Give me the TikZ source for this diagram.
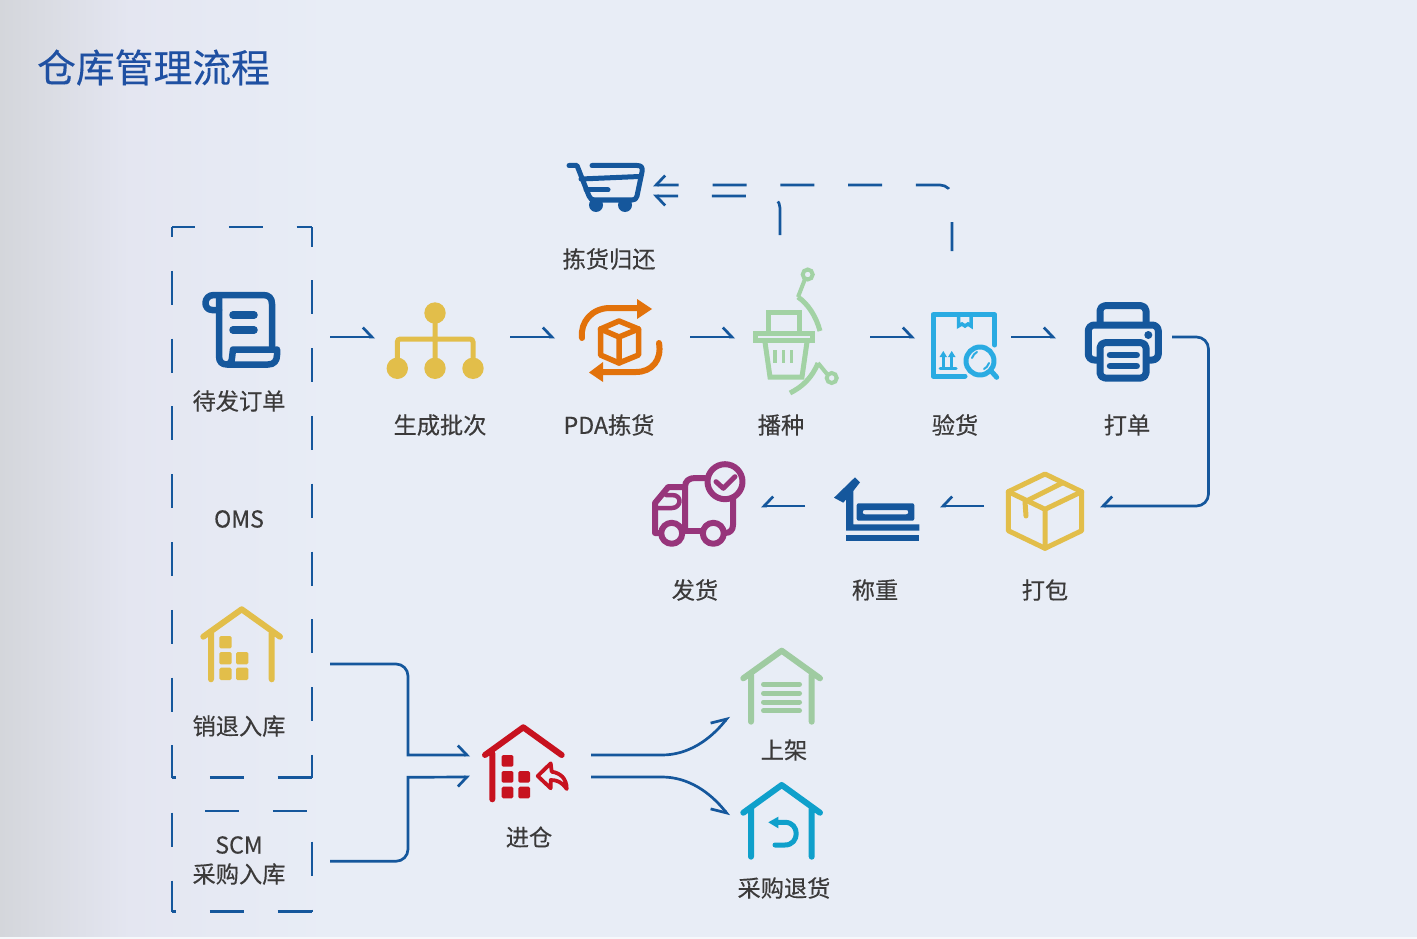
\documentclass[tikz,border=0pt]{standalone}
\usepackage{fontspec}
\setmainfont{Noto Sans CJK SC}[FakeBold=0.35]
\newfontfamily\titlefont{Noto Sans CJK SC}[FakeBold=0.2]
\usetikzlibrary{arrows.meta,calc}
\definecolor{bgc}{HTML}{E8EDF6}
\definecolor{bgl}{HTML}{D4D6DB}
\definecolor{bgm}{HTML}{E4E6F1}
\definecolor{linec}{HTML}{15579C}
\definecolor{txtc}{HTML}{3B3A3A}
\definecolor{titlec}{HTML}{1F50A2}
\definecolor{yel}{HTML}{E2BE4A}
\definecolor{org}{HTML}{E2720B}
\definecolor{grn}{HTML}{A2D2A4}
\definecolor{grd}{HTML}{9FCBA1}
\definecolor{sky}{HTML}{2AABE2}
\definecolor{pur}{HTML}{97357B}
\definecolor{red1}{HTML}{C7121F}
\definecolor{teal1}{HTML}{0FA0CB}
\tikzset{
  x=1pt,y=-1pt,
  lab/.style={font=\fontsize{23.2}{26}\selectfont,text=txtc,inner sep=0pt},
  hub/.style={inner sep=0pt,outer sep=0pt,minimum height=1pt,anchor=center},
  conn/.style={draw=linec,line width=2.7pt,rounded corners=12pt},
  hb/.style={-{Straight Barb[harpoon,length=9pt,width=19pt]}},
  hs/.style={-{Straight Barb[harpoon,swap,length=9pt,width=19pt]}},
  hbc/.style={-{Straight Barb[harpoon,length=13pt,width=20pt]}},
  hsc/.style={-{Straight Barb[harpoon,swap,length=13pt,width=20pt]}},
  fr/.style={draw=linec,line width=2.7pt},
  dsh/.style={dash pattern=on 34pt off 33.8pt,dash phase=#1},
  ic/.style={line cap=round,line join=round},
}
\begin{document}
\begin{tikzpicture}
\useasboundingbox (0,0) rectangle (1417,939);
% background
\fill[bgc] (0,0) rectangle (1417,939);
\shade[left color=bgl,right color=bgm] (0,0) rectangle (130,939);
\shade[left color=bgm,right color=bgc] (130,0) rectangle (330,939);
\fill[white!60!bgc] (0,937) rectangle (1417,939);
% title
\node[font=\titlefont\fontsize{38.8}{44}\selectfont,text=titlec,inner sep=0pt] (title) at (153.5,67.5) {仓库管理流程};

% layout nodes (invisible): their edges are the connector ends
\node[hub,minimum width=140pt,minimum height=550.5pt] (oms) at (242,502.25) {};
\node[hub,minimum width=140pt,minimum height=100.5pt] (scm) at (242,861.25) {};
\node[hub,minimum width=135pt] (batch) at (442.5,337) {};
\node[hub,minimum width=135pt] (pda) at (622.5,337) {};
\node[hub,minimum width=135pt,minimum height=204pt] (sow) at (802.5,337) {};
\node[hub,minimum width=96pt,minimum height=172pt] (check) at (963,337) {};
\node[hub,minimum width=116pt] (print) at (1114,337) {};
\node[hub,minimum width=116pt] (pack) at (1042,506) {};
\node[hub,minimum width=135pt] (weigh) at (872.5,506) {};
\node[hub,minimum width=111pt] (ship) at (705.5,506) {};
\node[hub,minimum width=85pt] (cart) at (610.5,190.5) {};
\node[hub,minimum width=121pt] (inb) at (530.5,766) {};
\node[hub,minimum width=90pt] (shelf) at (774,716) {};
\node[hub,minimum width=90pt] (back) at (774,816) {};

% dashed frames
\draw[fr,dsh=11pt] (oms.north west) -- (oms.north east);
\draw[fr,dsh=14.5pt] (oms.north east) -- (oms.south east);
\draw[fr,dsh=24pt] (oms.north west) -- (oms.south west);
\draw[fr,dsh=30pt] (oms.south west) -- (oms.south east);
\draw[fr,dsh=34.8pt] (scm.north west) -- (scm.north east);
\draw[fr,dsh=66.1pt] (scm.north west) -- (scm.south west);
\draw[fr,dsh=37.1pt] (scm.north east) -- (scm.south east);
\draw[fr,dsh=30pt] (scm.south west) -- (scm.south east);

% connectors
\draw[conn,hb] ([xshift=18pt]oms.east |- batch.west) -- (batch.west);
\draw[conn,hb] (batch.east) -- (pda.west);
\draw[conn,hb] (pda.east) -- (sow.west);
\draw[conn,hb] (sow.east) -- (check.west);
\draw[conn,hb] (check.east) -- (print.west);
\draw[conn,hs] (print.east) -- ++(36.5,0) |- (pack.east);
\draw[conn,hs] (pack.west) -- (weigh.east);
\draw[conn,hs] (weigh.west) -- (ship.east);
\draw[conn,hs,dsh=5pt] ([xshift=-11pt]check.north) |- ([yshift=5.5pt]cart.east);
\draw[conn,hb,dsh=0pt] ([xshift=-22.5pt]sow.north) |- ([yshift=-5.5pt]cart.east);
\draw[conn,hb,sharp corners] ([shift={(18pt,-161.75pt)}]oms.east) -- ++(66,0) .. controls +(6.6,0) and +(0,-6.6) .. ++(12,12) -- ++(0,79) -- ([yshift=11pt]inb.west);
\draw[conn,hs,sharp corners] ([xshift=18pt]scm.east) -- ++(66,0) .. controls +(6.6,0) and +(0,6.6) .. ++(12,-12) -- ++(0,-72) -- ([yshift=-11pt]inb.west);
\draw[conn,hbc,sharp corners] ([yshift=11pt]inb.east) -- ++(71,0) .. controls (688,755) and (710,740) .. (shelf.west);
\draw[conn,hsc,sharp corners] ([yshift=-11pt]inb.east) -- ++(71,0) .. controls (688,777) and (710,792) .. (back.west);

% labels
\node[lab] (t1) at (239,401) {待发订单};
\node[lab] (t2) at (440,425) {生成批次};
\node[lab] (t3) at (609,425) {PDA拣货};
\node[lab] (t4) at (781,425) {播种};
\node[lab] (t5) at (955,425) {验货};
\node[lab] (t6) at (1127,425) {打单};
\node[lab] (t7) at (609,259) {拣货归还};
\node[lab] (t8) at (695,590) {发货};
\node[lab] (t9) at (875,590) {称重};
\node[lab] (t10) at (1045,590) {打包};
\node[lab] (t11) at (239,519) {OMS};
\node[lab] (t12) at (239,726) {销退入库};
\node[lab] (t13) at (239,845) {SCM};
\node[lab] (t14) at (239,874) {采购入库};
\node[lab] (t15) at (529,837) {进仓};
\node[lab] (t16) at (784,750) {上架};
\node[lab] (t17) at (784,888) {采购退货};

% --- icons ---
% scroll
\begin{scope}[linec,ic,line width=6.5pt]
\draw (219,310) -- (212,310) .. controls (203,310) and (203,295) .. (214,295) -- (263,295) .. controls (269,295) and (272,298) .. (272,304) -- (272,346);
\draw (219,298) -- (219,356) .. controls (219,362) and (222,364.5) .. (227,364.5) -- (268,364.5) .. controls (274,364.5) and (277,361) .. (277,355) -- (277,349.5) -- (233,349.5) -- (232,358) .. controls (232,362) and (229,364.5) .. (227,364.5);
\draw[line width=7.5pt] (233,315) -- (254,315) (233,330) -- (254,330);
\end{scope}
% org chart
\begin{scope}[yel]
\fill (435,313) circle (10.7pt) (397.3,368.3) circle (10.7pt) (435,368.3) circle (10.7pt) (473,368.3) circle (10.7pt);
\draw[line width=5pt,rounded corners=3pt] (435,313) -- (435,368) (397.3,368) -- (397.3,339) -- (473,339) -- (473,368);
\end{scope}
% PDA
\begin{scope}[org,ic,line width=5.5pt]
\draw (619,321) -- (638.5,329) -- (638.5,355) -- (619,363) -- (600.5,355) -- (600.5,329) -- cycle;
\draw (600.5,329) -- (619,337) -- (638.5,329) (619,337) -- (619,363);
\draw[line width=6pt] (582,338) .. controls (580,322) and (592,308) .. (610,308) -- (640,308);
\fill (637,299) -- (652,309) -- (637,319) -- cycle;
\draw[line width=6pt] (659,343) .. controls (662,360) and (652,372) .. (636,372) -- (603,372);
\fill (603,362) -- (589,372.5) -- (603,382) -- cycle;
\end{scope}
% basket
\begin{scope}[grn,line width=5pt,line join=miter]
\draw (768,333) -- (768,312) -- (799,312) -- (799,333);
\draw (755,333.5) rectangle (812,340.5);
\draw (765,342) -- (770,377) -- (802,377) -- (807,342);
\draw[line width=3.5pt] (775,350) -- (775,363) (783.3,350) -- (783.3,363) (791.7,350) -- (791.7,363);
\draw[line width=4pt] (807.7,274.5) circle (5pt);
\draw[line width=4pt] (805,279) -- (798,297);
\draw (798,297) .. controls (808,304) and (816,316) .. (820,331);
\draw[line width=4pt] (831.7,378) circle (5pt);
\draw[line width=4pt] (818,363) -- (827,374);
\draw (790,393) .. controls (802,387) and (812,378) .. (818,363);
\end{scope}
% check box
\begin{scope}[sky,ic,line width=5pt]
\draw (994.7,345) -- (994.7,314.7) -- (933,314.7) -- (933,376) -- (965,376);
\draw[line width=3.5pt,line join=miter,line cap=butt] (958.5,315) -- (958.5,326) -- (962,324) -- (965,326) -- (968,324) -- (971,326) -- (971,315);
\fill (943.3,351) -- (939.5,357) -- (947,357) -- cycle (951.7,351) -- (948,357) -- (955.5,357) -- cycle;
\draw[line width=3pt] (943.3,355) -- (943.3,368) (951.7,355) -- (951.7,368) (940,368.5) -- (956,368.5);
\draw (980,361) circle (14pt);
\draw (991.7,371.7) -- (996.7,377.3);
\draw[line width=2pt] (972,358) .. controls (973,355) and (975,353) .. (977,352) (984,369) .. controls (986,368) and (988,366) .. (989,363);
\end{scope}
% printer
\begin{scope}[linec,line width=7pt,line join=round]
\draw[rounded corners=5pt] (1100,326) -- (1100,305.7) -- (1146,305.7) -- (1146,326);
\draw[rounded corners=6pt] (1100,360) -- (1088.3,360) -- (1088.3,325) -- (1158.3,325) -- (1158.3,360) -- (1146,360);
\filldraw[fill=bgc,rounded corners=5pt] (1100,342.7) rectangle (1146,378);
\draw[line cap=round,line width=6.5pt] (1110,355) -- (1136.7,355) (1110,366) -- (1136.7,366);
\fill (1148.3,335) circle (4pt);
\end{scope}
% cart
\begin{scope}[linec,ic,line width=5pt]
\draw (569,165.5) -- (577,165.5) -- (589,196) .. controls (590,199) and (592,200) .. (595,200) -- (632,200) .. controls (635,200) and (636,199) .. (637,196) -- (642,172) .. controls (643,167) and (641,165.5) .. (637,165.5) -- (592,165.5);
\draw (581,179) -- (639.5,176.5);
\draw (586,190) -- (608,190);
\fill (596,205) circle (7pt) (625,205) circle (7pt);
\end{scope}
% parcel box
\begin{scope}[yel,ic,line width=5pt]
\draw (1045,474) -- (1081.7,491.7) -- (1081.7,530.7) -- (1045,548.3) -- (1008.3,530.7) -- (1008.3,491.7) -- cycle;
\draw (1008.3,491.7) -- (1045,509.3) -- (1081.7,491.7) (1045,509.3) -- (1045,548.3);
\draw (1061.7,483.3) -- (1025,501.7) -- (1026,516);
\end{scope}
% scale
\begin{scope}[linec]
\fill[rounded corners=2pt,even odd rule] (856.7,503.3) rectangle (914.3,520.7) (862.7,510) rectangle (908.3,514.3);
\fill (834,497.7) -- (855,477.3) -- (860,482.3) -- (853.3,491) -- (853.3,524.3) -- (919.3,524.3) -- (919.3,530.7) -- (846,530.7) -- (846,499.5) -- (843.3,502.7) -- cycle;
\fill (846,535) rectangle (919.3,541);
\end{scope}
% truck
\begin{scope}[pur,ic,line width=6pt]
\draw (725,481.7) circle (17.5pt);
\draw[line width=5pt] (716,481.7) -- (723.3,488.3) -- (735,476.7);
\draw (705,478) -- (695,478) .. controls (689,478) and (685,481) .. (685,487) -- (685,531);
\draw (733,498) -- (733,525) .. controls (733,530) and (730,533) .. (725,533);
\draw (683,531) -- (703,531);
\draw (671.7,533.3) circle (10.5pt) (713.3,533.3) circle (10.5pt);
\draw (685,487) -- (668.3,487) -- (655,503) -- (655,533) -- (661,533);
\draw[line width=4.5pt] (657,508) -- (672,508) .. controls (681,508) and (683,495) .. (672,495) -- (666,495);
\end{scope}
% yellow warehouse
\begin{scope}[yel]
\draw[ic,line width=6pt] (203.3,636.7) -- (241.7,609.3) -- (280,636.7) (211,633) -- (211,679.3) (271.7,633) -- (271.7,679.3);
\fill[rounded corners=1.5pt] (219.3,636) rectangle (231.7,648.3);
\fill[rounded corners=1.5pt] (219.3,652) rectangle (231.7,664.3);
\fill[rounded corners=1.5pt] (236,652) rectangle (248.3,664.3);
\fill[rounded corners=1.5pt] (219.3,667.7) rectangle (231.7,680);
\fill[rounded corners=1.5pt] (236,667.7) rectangle (248.3,680);
\end{scope}
% red warehouse
\begin{scope}[red1]
\draw[ic,line width=6pt] (485,755) -- (523.3,727.3) -- (561.7,755) (492.3,753.3) -- (492.3,799.3);
\fill[rounded corners=1.5pt] (501.7,755) rectangle (513.3,766.7);
\fill[rounded corners=1.5pt] (501.7,771) rectangle (513.3,782.7);
\fill[rounded corners=1.5pt] (518.3,771) rectangle (530,782.7);
\fill[rounded corners=1.5pt] (501.7,786.7) rectangle (513.3,798.3);
\fill[rounded corners=1.5pt] (518.3,786.7) rectangle (530,798.3);
\draw[ic,line width=3.8pt] (537.7,776) -- (550.7,763.3) -- (551.7,771.7) .. controls (560,773) and (566.7,778) .. (566.7,789) .. controls (562,782) and (557,780) .. (550.7,780) -- (550.7,788.3) -- cycle;
\end{scope}
% green garage
\begin{scope}[grd,ic,line width=6pt]
\draw (743.3,678.3) -- (781.7,650.7) -- (820,678.3) (751,675) -- (751,721.7) (811.7,675) -- (811.7,721.7);
\draw[line width=5pt] (763.5,684.3) -- (799.5,684.3) (763.5,693.3) -- (799.5,693.3) (763.5,702) -- (799.5,702) (763.5,710.7) -- (799.5,710.7);
\end{scope}
% teal garage
\begin{scope}[teal1,ic,line width=6pt]
\draw (743.3,812.7) -- (781.7,785) -- (820,812.7) (751,809) -- (751,856.7) (811.7,809) -- (811.7,856.7);
\fill (768.3,822.3) -- (778.3,816.7) -- (778.3,828.3) -- cycle;
\draw[line width=5pt] (776,822.3) -- (785,822.3) .. controls (800,822.3) and (800,845) .. (785,845) -- (775,845);
\end{scope}
\end{tikzpicture}
\end{document}
